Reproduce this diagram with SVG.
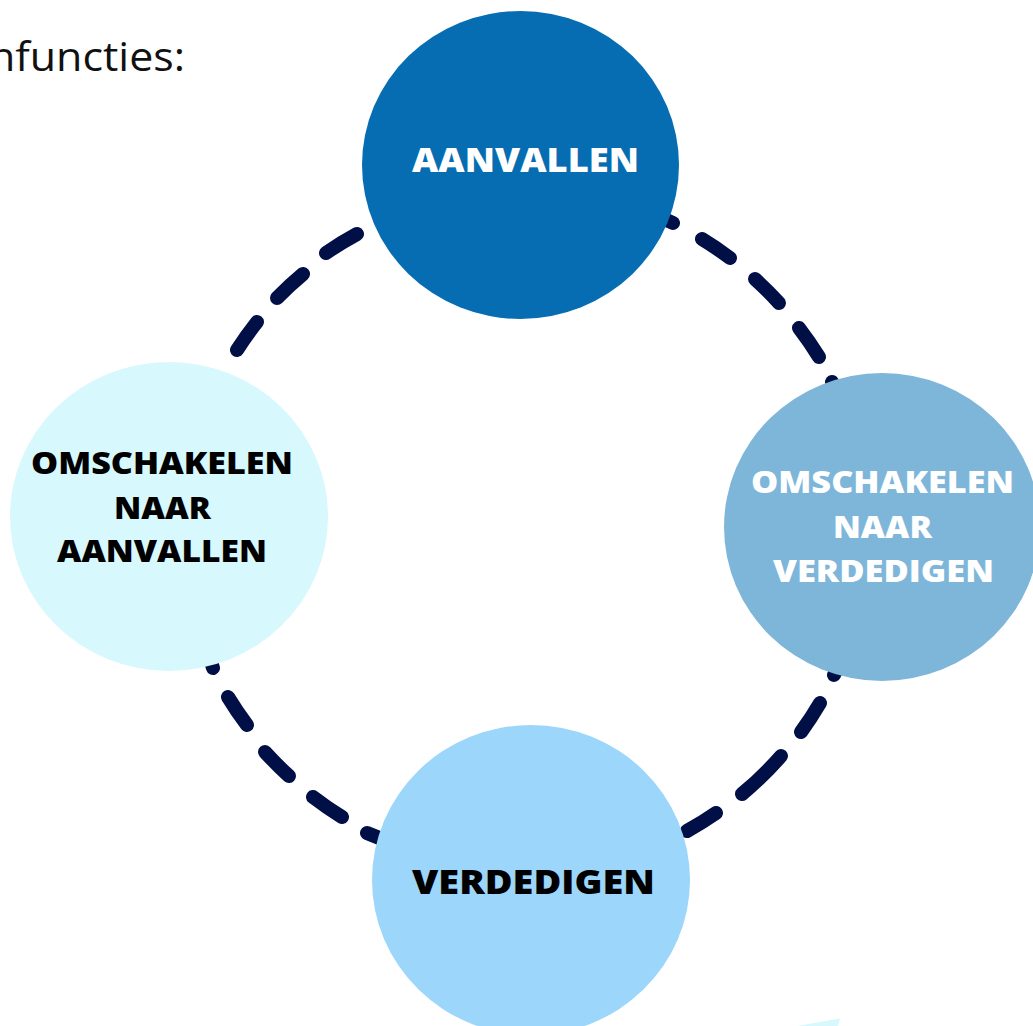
<svg xmlns="http://www.w3.org/2000/svg" width="1033" height="1026" viewBox="0 0 1033 1026">
<style>
.conn{fill:none;stroke:#000F45;stroke-width:14;stroke-linecap:round}
.lbl{font-family:"Open Sans","Liberation Sans",sans-serif;font-weight:800;text-anchor:middle}
.big{font-size:33px}
.small{font-size:30px}
.dark{fill:#000000}
.light{fill:#FFFFFF}
.title{font-family:"Open Sans","Liberation Sans",sans-serif;font-size:40px;fill:#111111}
</style>
<rect width="1033" height="1026" fill="#FFFFFF"/>
<text class="title" x="-11" y="71" textLength="196" lengthAdjust="spacingAndGlyphs">nfuncties:</text>
<polygon points="797,1026 840,1018.5 838,1026" fill="#D7F8FD"/>
<g id="connectors">
<path id="conn-top-right" class="conn" d="M641.6,209.9 A340,340 0 0 1 673,223 M702,239 A340,340 0 0 1 730,258 M755,279 A340,340 0 0 1 779,303 M799,328 A340,340 0 0 1 819,357 M832,382 A340,340 0 0 1 847.9,417.6"/>
<path id="conn-right-bottom" class="conn" d="M847.5,643.5 A340,340 0 0 1 834,675 M820,703 A340,340 0 0 1 801,732 M781,756 A340,340 0 0 1 742,794 M716,813 A340,340 0 0 1 687,831"/>
<path id="conn-bottom-left" class="conn" d="M399.6,845.2 A340,340 0 0 1 367,833 M342,817 A340,340 0 0 1 313,797 M289,776 A340,340 0 0 1 265,752 M247,725 A340,340 0 0 1 228,697 M213,668 A340,340 0 0 1 203.6,635.1"/>
<path id="conn-left-top" class="conn" d="M237,350 A340,340 0 0 1 257,322 M277,298 A340,340 0 0 1 303,274 M326,253 A340,340 0 0 1 357,234"/>
</g>
<g id="node-aanvallen">
<ellipse cx="520.5" cy="165" rx="158.5" ry="154" fill="#076DB3"/>
<text class="lbl big light" x="525.5" y="172" textLength="227" lengthAdjust="spacingAndGlyphs">AANVALLEN</text>
</g>
<g id="node-omschakelen-verdedigen">
<ellipse cx="882" cy="527" rx="158" ry="154" fill="#7EB6DA"/>
<text class="lbl small light" x="882.5" y="493" textLength="263" lengthAdjust="spacingAndGlyphs">OMSCHAKELEN</text>
<text class="lbl small light" x="882.5" y="538" textLength="99" lengthAdjust="spacingAndGlyphs">NAAR</text>
<text class="lbl small light" x="883.5" y="582" textLength="221" lengthAdjust="spacingAndGlyphs">VERDEDIGEN</text>
</g>
<g id="node-verdedigen">
<ellipse cx="531" cy="880" rx="159" ry="155" fill="#9CD6FA"/>
<text class="lbl big dark" x="533.5" y="894" textLength="243" lengthAdjust="spacingAndGlyphs">VERDEDIGEN</text>
</g>
<g id="node-omschakelen-aanvallen">
<ellipse cx="169" cy="516.5" rx="159" ry="154.5" fill="#D7F8FD"/>
<text class="lbl small dark" x="162" y="474" textLength="262" lengthAdjust="spacingAndGlyphs">OMSCHAKELEN</text>
<text class="lbl small dark" x="162.5" y="519" textLength="97" lengthAdjust="spacingAndGlyphs">NAAR</text>
<text class="lbl small dark" x="162" y="562" textLength="210" lengthAdjust="spacingAndGlyphs">AANVALLEN</text>
</g>
</svg>
